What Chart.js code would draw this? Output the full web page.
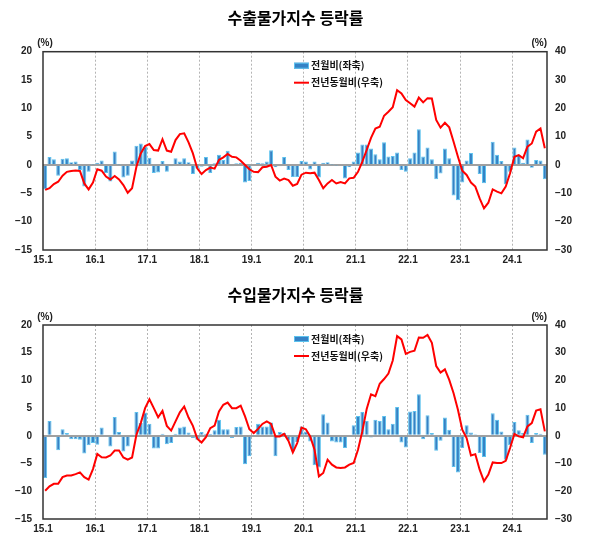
<!DOCTYPE html>
<html>
<head>
<meta charset="utf-8">
<script src="https://cdn.jsdelivr.net/npm/chart.js@4.4.1/dist/chart.umd.min.js"></script>
<style>
body { margin: 0; background: #fff; }
.box { position: absolute; left: 0; width: 591px; }
</style>
</head>
<body>
<div class="box" style="top:0;height:276px"><canvas id="expChart"></canvas></div>
<div class="box" style="top:276px;height:277px"><canvas id="impChart"></canvas></div>
<script>
// x labels: one per January, 2015.01 ~ 2024.08 monthly data
const yearLabels = ['15.1', '16.1', '17.1', '18.1', '19.1', '20.1', '21.1', '22.1', '23.1', '24.1'];

// 수출물가 전월비 (left axis)
const expMom = [
    -4.3, 1.4, 1.0, -1.9, 1.1, 1.2, 0.5, 0.6, -0.9, -3.8, -1.2, 0.1,
    0.4, 0.8, -1.4, -2.9, 2.4, 0.1, -2.2, -1.9, 0.8, 3.4, 3.8, 3.2,
    1.3, -1.4, -1.3, 0.7, -1.2, -0.2, 1.2, 0.6, 1.2, 0.5, -1.6, -0.6,
    -0.3, 1.4, -1.4, 0.3, 1.8, 0.9, 2.5, -0.2, 0.3, 0.4, -3.1, -2.8,
    0.0, 0.4, 0.3, 0.6, 2.6, -0.4, -0.2, 1.4, -0.9, -2.1, -2.1, 0.7,
    0.6, -0.8, 0.6, -2.2, 0.4, 0.5, 0.1, -0.1, 0.0, -2.4, -0.4, 0.6,
    2.2, 3.6, 3.6, 2.9, 1.9, 1.0, 4.0, 1.5, 1.6, 2.2, -0.9, -1.2,
    1.2, 2.2, 6.3, 1.5, 3.1, 1.0, -2.5, -1.5, 2.9, 1.2, -5.4, -6.2,
    -3.1, 0.8, 2.1, 0.2, -1.6, -3.2, 0.0, 4.1, 1.8, 0.7, -3.4, -1.2,
    3.1, 1.8, 0.4, 4.5, -0.5, 0.9, 0.8, -2.5
];

// 수출물가 전년동월비 (right axis)
const expYoy = [
    -8.8, -8.2, -6.7, -5.9, -3.8, -2.4, -2.1, -1.9, -2.1, -6.5, -8.6, -6.2,
    -1.5, -2.0, -4.1, -5.1, -3.9, -5.1, -7.1, -9.8, -8.2, -0.6, 4.1, 6.7,
    7.4, 5.3, 5.1, 9.1, 5.1, 4.7, 8.8, 10.9, 11.2, 8.0, 4.1, -1.2,
    -3.2, -1.8, -0.9, -1.3, 1.8, 2.7, 3.9, 2.9, 2.7, 1.5, 0.0, -1.5,
    -2.4, -2.5, -0.8, -0.6, 0.0, -4.1, -5.5, -4.8, -5.3, -7.3, -6.7, -3.4,
    -2.7, -2.9, -2.7, -5.3, -8.2, -6.5, -5.3, -6.5, -6.0, -6.5, -4.7, -4.5,
    -2.4, 1.2, 5.3, 9.6, 12.9, 13.5, 17.4, 18.8, 20.4, 26.4, 25.3, 22.9,
    21.8, 20.6, 23.8, 22.1, 23.6, 23.5, 15.9, 13.2, 14.9, 13.3, 8.2, 2.9,
    -2.0, -3.5, -6.2, -7.6, -11.8, -15.3, -13.3, -8.6, -9.4, -10.0, -7.6, -2.9,
    2.9, 3.5, 2.4, 6.5, 7.6, 11.8, 12.9, 5.9
];

// 수입물가 전월비 (left axis)
const impMom = [
    -7.6, 2.7, 0.2, -2.6, 1.2, 0.5, -0.6, -0.6, -0.7, -3.2, -1.7, -1.3,
    -1.6, 1.5, -0.1, -1.9, 3.4, 0.7, -2.8, -1.9, 0.1, 4.3, 2.3, 4.2,
    2.2, -2.3, -2.3, 0.4, -1.5, -1.3, 0.4, 1.5, 1.7, 0.6, -0.4, -0.7,
    0.7, 0.4, 0.4, 1.0, 2.9, 1.2, 1.2, -0.4, 1.6, 1.7, -5.1, -3.7,
    -0.1, 2.2, 1.7, 1.7, 2.4, -3.7, 0.7, 0.5, -0.8, -2.8, -1.1, 1.7,
    0.8, -1.0, -5.3, -5.7, 3.9, 2.4, -1.0, -1.2, -1.2, -2.2, -0.1, 1.9,
    3.6, 4.3, 2.7, -0.3, 2.9, 2.7, 3.6, 1.2, 2.2, 5.2, -1.2, -2.1,
    4.4, 4.5, 7.5, -0.6, 3.7, 0.5, -2.7, -0.9, 3.3, 1.1, -5.6, -6.6,
    -2.2, 1.9, 0.6, 0.3, -3.1, -3.8, 0.2, 4.1, 2.9, 0.8, -4.3, -1.7,
    2.5, 1.0, 0.5, 3.8, -1.3, 0.5, 0.4, -3.4
];

// 수입물가 전년동월비 (right axis)
const impYoy = [
    -19.8, -18.2, -17.3, -17.3, -14.9, -14.3, -14.3, -13.8, -13.2, -14.9, -15.8, -12.0,
    -6.5, -7.7, -7.8, -7.1, -5.3, -5.3, -7.8, -8.6, -7.8, 0.4, 4.6, 10.0,
    13.2, 10.0, 6.7, 9.0, 3.6, 1.9, 5.2, 8.5, 10.6, 6.6, 3.6, -1.0,
    -2.4, -0.5, 2.8, 3.7, 8.8, 11.2, 12.0, 10.0, 10.0, 10.9, 7.0, 2.4,
    1.0, 2.5, 4.3, 5.2, 4.3, -0.2, -0.2, 0.7, -1.8, -6.0, -2.6, 3.0,
    2.4, -0.2, -5.0, -14.6, -13.4, -8.6, -10.4, -11.4, -11.6, -11.4, -10.4, -9.8,
    -5.0, 1.7, 9.7, 15.0, 14.3, 18.8, 20.5, 22.5, 27.2, 36.0, 34.8, 29.6,
    30.3, 30.7, 35.5, 35.4, 36.4, 33.6, 25.2, 22.8, 24.0, 20.2, 15.4, 9.4,
    2.2, -0.8, -7.1, -6.6, -12.2, -16.4, -14.0, -9.6, -9.8, -9.8, -9.0, -4.4,
    0.7, -0.2, -0.5, 3.4, 4.6, 9.1, 9.6, 1.6
];

const leftTicks = [-15, 20, 5];   // min, max, step
const rightTicks = [-30, 40, 10];

const FONT = "'Liberation Sans', Arial, 'Noto Sans CJK KR', sans-serif";
const KFONT = "'Noto Sans CJK KR', 'Liberation Sans', sans-serif";
const BAR_FILL = '#3582c5';
const BAR_EDGE = '#5cc2ee';

function minusFmt(v) {
    return v < 0 ? '\u2212' + Math.abs(v) : '' + v;
}

// frame, (%) units and the in-plot legend
const decor = {
    id: 'decor',
    afterDatasetsDraw(chart) {
        const ctx = chart.ctx;
        const { left, top, right, bottom } = chart.chartArea;
        ctx.save();
        ctx.strokeStyle = '#333';
        ctx.lineWidth = 1.5;
        ctx.strokeRect(left, top, right - left, bottom - top);

        ctx.fillStyle = '#222';
        ctx.font = 'bold 10px ' + FONT;
        ctx.textBaseline = 'middle';
        ctx.textAlign = 'center';
        ctx.fillText('(%)', left + 2, top - 8);
        ctx.textAlign = 'right';
        ctx.fillText('(%)', right, top - 8);

        const ds = chart.data.datasets;
        const lx = left + 251;
        const y1 = top + 14, y2 = top + 31;
        ctx.fillStyle = BAR_FILL;
        ctx.fillRect(lx, y1 - 3, 15, 6);
        ctx.strokeStyle = BAR_EDGE;
        ctx.lineWidth = 1;
        ctx.strokeRect(lx + 0.5, y1 - 2.5, 14, 5);
        ctx.strokeStyle = 'red';
        ctx.lineWidth = 2;
        ctx.beginPath();
        ctx.moveTo(lx, y2);
        ctx.lineTo(lx + 15, y2);
        ctx.stroke();

        ctx.fillStyle = '#111';
        ctx.font = 'bold 10px ' + KFONT;
        ctx.textAlign = 'left';
        ctx.fillText(ds[1].label, lx + 17, y1);
        ctx.fillText(ds[0].label, lx + 17, y2);
        ctx.restore();
    }
};

function makeChart(id, title, mom, yoy, titlePad, xHeight) {
    return new Chart(document.getElementById(id), {
        data: {
            datasets: [{
                type: 'line',
                label: '전년동월비(우축)',
                data: yoy.map((v, i) => ({ x: i + 0.5, y: v })),
                yAxisID: 'y1',
                borderColor: 'red',
                borderWidth: 2,
                pointRadius: 0,
                tension: 0,
                order: 0
            }, {
                type: 'bar',
                label: '전월비(좌축)',
                data: mom.map((v, i) => ({ x: i + 0.5, y: v })),
                yAxisID: 'y',
                backgroundColor: BAR_FILL,
                borderColor: BAR_EDGE,
                borderWidth: 1,
                categoryPercentage: 1,
                barPercentage: 0.92,
                order: 1
            }]
        },
        options: {
            responsive: true,
            maintainAspectRatio: false,
            animation: false,
            layout: { padding: 0 },
            scales: {
                x: {
                    type: 'linear',
                    min: 0,
                    max: mom.length,
                    offset: false,
                    afterBuildTicks: (scale) => {
                        scale.ticks = yearLabels.map((_, k) => ({ value: k * 12 }));
                    },
                    afterFit: (scale) => { scale.height = xHeight; },
                    grid: {
                        offset: false,
                        drawTicks: false,
                        color: (c) => (c.tick && c.tick.value === 0) ? 'rgba(0,0,0,0)' : '#b4b4b4',
                        lineWidth: 1
                    },
                    border: { display: false, dash: [2, 2] },
                    ticks: {
                        padding: 4,
                        maxRotation: 0,
                        autoSkip: false,
                        color: '#222',
                        font: { family: FONT, size: 10, weight: 'bold' },
                        callback: (v) => yearLabels[Math.round(v / 12)]
                    }
                },
                y: {
                    position: 'left',
                    min: leftTicks[0],
                    max: leftTicks[1],
                    afterFit: (scale) => { scale.width = 43; },
                    grid: {
                        drawTicks: false,
                        color: (c) => (c.tick && c.tick.value === 0) ? '#a0a0a0' : 'rgba(0,0,0,0)',
                        lineWidth: 2
                    },
                    border: { display: false },
                    ticks: {
                        stepSize: leftTicks[2],
                        padding: 11,
                        color: '#222',
                        font: { family: FONT, size: 10, weight: 'bold' },
                        callback: minusFmt
                    }
                },
                y1: {
                    position: 'right',
                    min: rightTicks[0],
                    max: rightTicks[1],
                    afterFit: (scale) => { scale.width = 44; },
                    grid: { display: false, drawTicks: false },
                    border: { display: false },
                    ticks: {
                        stepSize: rightTicks[2],
                        padding: 8,
                        color: '#222',
                        font: { family: FONT, size: 10, weight: 'bold' },
                        callback: minusFmt
                    }
                }
            },
            plugins: {
                legend: { display: false },
                tooltip: { enabled: false },
                title: {
                    display: true,
                    text: title,
                    color: '#000',
                    font: { family: KFONT, size: 16, weight: 'bold' },
                    padding: { top: titlePad[0], bottom: titlePad[1] }
                }
            }
        },
        plugins: [decor]
    });
}

makeChart('expChart', '수출물가지수 등락률', expMom, expYoy, [8, 24.5], 26);
makeChart('impChart', '수입물가지수 등락률', impMom, impYoy, [9, 20.8], 34);
</script>
</body>
</html>
